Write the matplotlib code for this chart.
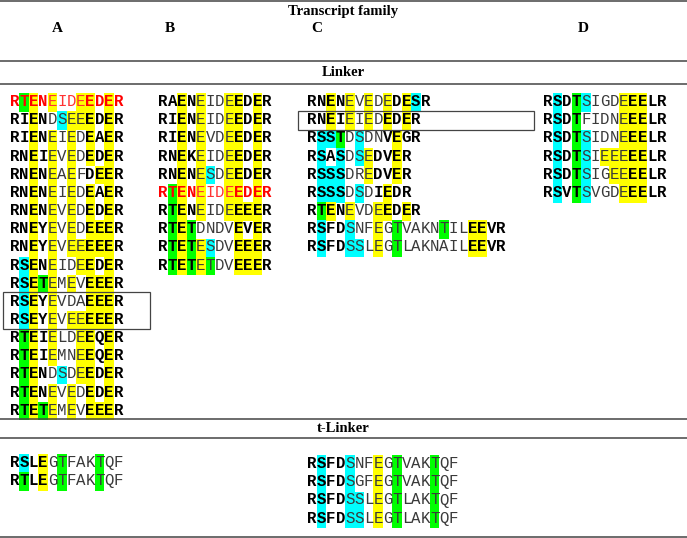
import matplotlib.pyplot as plt
from matplotlib.patches import Rectangle

# sequences per transcript family (Linker)
linker_a = ["RTENEIDEEDER", "RIENDSEEEDER", "RIENEIEDEAER", "RNEIEVEDEDER",
            "RNENEAEFDEER", "RNENEIEDEAER", "RNENEVEDEDER", "RNEYEVEDEEER",
            "RNEYEVEEEEER", "RSENEIDEEDER", "RSETEMEVEEER", "RSEYEVDAEEER",
            "RSEYEVEEEEER", "RTEIELDEEQER", "RTEIEMNEEQER", "RTENDSDEEDER",
            "RTENEVEDEDER", "RTETEMEVEEER"]
linker_b = ["RAENEIDEEDER", "RIENEIDEEDER", "RIENEVDEEDER", "RNEKEIDEEDER",
            "RNENESDEEDER", "RTENEIDEEDER", "RTENEIDEEEER", "RTETDNDVEVER",
            "RTETESDVEEER", "RTETETDVEEER"]
linker_c = ["RNENEVEDEDESR", "RNEIEIEDEDER", "RSSTDSDNVEGR", "RSASDSEDVER",
            "RSSSDREDVER", "RSSSDSDIEDR", "RTENEVDEEDER",
            "RSFDSNFEGTVAKNTILEEVR", "RSFDSSLEGTLAKNAILEEVR"]
linker_d = ["RSDTSIGDEEELR", "RSDTFIDNEEELR", "RSDTSIDNEEELR",
            "RSDTSIEEEEELR", "RSDTSIGEEEELR", "RSVTSVGDEEELR"]

# t-Linker
tlinker_a = ["RSLEGTFAKTQF", "RTLEGTFAKTQF"]
tlinker_c = ["RSFDSNFEGTVAKTQF", "RSFDSGFEGTVAKTQF",
             "RSFDSSLEGTLAKTQF", "RSFDSSLEGTLAKTQF"]

families = ["A", "B", "C", "D"]
red_rows = {"A": [0], "B": [5]}
boxed_rows = {"A": [11, 12], "C": [1]}

highlight = {"E": "#FFFF00", "S": "#00FFFF", "T": "#00FF00"}

fig = plt.figure(figsize=(6.87, 5.38), dpi=100)
ax = fig.add_axes([0, 0, 1, 1])
ax.set_xlim(0, 687)
ax.set_ylim(538, 0)
ax.axis("off")

cw = 9.44      # character cell width (px)
rh = 18.15     # row pitch (px)
mono = "Liberation Mono"
serif = "Liberation Serif"


def draw_block(seqs, x0, y0, tail_bold=True, red=(), box=None):
    for i, s in enumerate(seqs):
        yc = y0 + i * rh
        n = len(s)
        for j, ch in enumerate(s):
            if j > 0 and ch in highlight:
                ax.add_patch(Rectangle((x0 + j * cw, yc - 7.7), cw, rh + 0.4,
                                       facecolor=highlight[ch], edgecolor="none", zorder=1))
            bold = j < 4 or (tail_bold and j >= n - 4)
            if i in red:
                col = "#FF0000" if bold else "#FF3333"
            else:
                col = "black" if bold else "#3a3a3a"
            ax.text(x0 + (j + 0.5) * cw, yc + 5.2, ch, ha="center", va="baseline",
                    family=mono, fontsize=11.3, weight="bold" if bold else "normal",
                    color=col, zorder=2)
    if box is not None:
        rows, bx0, bx1 = box
        top = y0 + rows[0] * rh - 8.5
        bot = y0 + rows[-1] * rh + 10.5
        ax.add_patch(Rectangle((bx0, top), bx1 - bx0, bot - top, facecolor="none",
                               edgecolor="#444444", lw=0.9, zorder=3))


# horizontal rules
for y in [0.8, 61, 84, 419, 438, 537]:
    ax.plot([0, 687], [y, y], color="#444444", lw=1.1, zorder=3)

ax.text(343, 11, "Transcript family", ha="center", va="center", family=serif,
        weight="bold", fontsize=10.5)
for lab, x in zip(families, [57, 170, 317, 583]):
    ax.text(x, 29, lab, ha="center", va="center", family=serif, weight="bold", fontsize=11)
ax.text(343, 73, "Linker", ha="center", va="center", family=serif, weight="bold", fontsize=10.5)
ax.text(343, 428.5, "t-Linker", ha="center", va="center", family=serif, weight="bold", fontsize=10.5)

draw_block(linker_a, 10, 101, red=red_rows["A"], box=(boxed_rows["A"], 3, 150))
draw_block(linker_b, 158.3, 101, red=red_rows["B"])
draw_block(linker_c, 307.3, 101, box=(boxed_rows["C"], 298, 534))
draw_block(linker_d, 543.3, 101)

draw_block(tlinker_a, 10, 462, tail_bold=False)
draw_block(tlinker_c, 307.3, 463, tail_bold=False)

fig.savefig("out.png", dpi=100)
